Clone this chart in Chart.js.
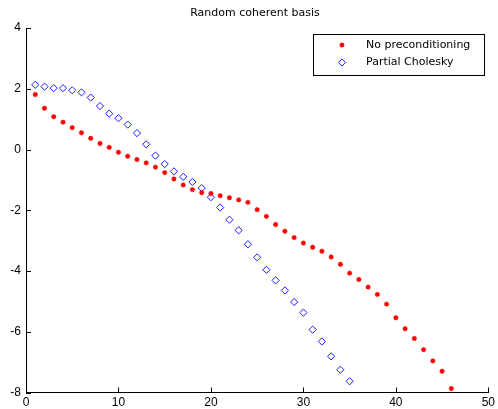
<!DOCTYPE html>
<html>
<head>
<meta charset="utf-8">
<script src="https://cdn.jsdelivr.net/npm/chart.js@4.4.1/dist/chart.umd.min.js"></script>
<style>
  html, body { margin: 0; padding: 0; background: #fff; }
  #wrap { width: 498px; height: 409px; }
</style>
</head>
<body>
<div id="wrap"><canvas id="chart"></canvas></div>
<script>
/**
 * Variable
 */
const TITLE = 'Random coherent basis';
const SERIES_NAMES = ['No preconditioning', 'Partial Cholesky'];
const X_TICKS = [0, 10, 20, 30, 40, 50];
const Y_TICKS = [-8, -6, -4, -2, 0, 2, 4];

const noPrecondIter = [
    1, 2, 3, 4, 5, 6, 7, 8, 9, 10, 11, 12, 13, 14, 15, 16, 17, 18, 19, 20, 21, 22, 23,
    24, 25, 26, 27, 28, 29, 30, 31, 32, 33, 34, 35, 36, 37, 38, 39, 40, 41, 42, 43, 44, 45, 46
];
const noPrecondValues = [
    1.81, 1.36, 1.08, 0.90, 0.72, 0.55, 0.37, 0.20, 0.07, -0.09, -0.22, -0.33, -0.44, -0.58,
    -0.76, -0.97, -1.17, -1.32, -1.42, -1.45, -1.52, -1.59, -1.66, -1.74, -1.98, -2.20, -2.47,
    -2.69, -2.90, -3.08, -3.22, -3.35, -3.54, -3.78, -4.07, -4.28, -4.53, -4.77, -5.09, -5.54,
    -5.90, -6.22, -6.59, -6.96, -7.30, -7.87
];
const cholIter = [
    1, 2, 3, 4, 5, 6, 7, 8, 9, 10, 11, 12, 13, 14, 15, 16, 17, 18, 19, 20, 21, 22, 23,
    24, 25, 26, 27, 28, 29, 30, 31, 32, 33, 34, 35
];
const cholValues = [
    2.13, 2.07, 2.02, 2.02, 1.95, 1.88, 1.71, 1.43, 1.18, 1.03, 0.82, 0.54, 0.17, -0.20,
    -0.48, -0.72, -0.90, -1.07, -1.27, -1.57, -1.91, -2.31, -2.66, -3.12, -3.55, -3.96, -4.31,
    -4.64, -5.02, -5.37, -5.93, -6.32, -6.81, -7.25, -7.63
];

const RED = '#ff0000';
const BLUE = '#1a1aff';
const TICK_FONT = 'Liberation Sans, Arial, sans-serif';
const TEXT_FONT = 'DejaVu Sans, sans-serif';

//////////////////////////////////////////////////////////////////

/**
 * Zip x / y arrays into points
 */
function toPoints(xs, ys) {
    return xs.map(function (x, i) { return { x: x, y: ys[i] }; });
}

/**
 * Inward tick marks (matlab style) + title over the plot
 */
const axesDecor = {
    id: 'axesDecor',
    afterDatasetsDraw(chart) {
        const ctx = chart.ctx;
        const xs = chart.scales.x, ys = chart.scales.y;
        const len = 5;
        ctx.save();
        ctx.strokeStyle = '#000';
        ctx.lineWidth = 1;
        ctx.beginPath();
        X_TICKS.forEach(function (v) {
            const px = Math.round(xs.getPixelForValue(v)) + 0.5;
            ctx.moveTo(px, ys.bottom);
            ctx.lineTo(px, ys.bottom - len);
        });
        Y_TICKS.forEach(function (v) {
            const py = Math.round(ys.getPixelForValue(v)) + 0.5;
            ctx.moveTo(xs.left, py);
            ctx.lineTo(xs.left + len, py);
        });
        ctx.stroke();

        // title
        ctx.fillStyle = '#000';
        ctx.font = '11px ' + TEXT_FONT;
        ctx.textAlign = 'center';
        ctx.textBaseline = 'middle';
        ctx.fillText(TITLE, 255, 13);
        ctx.restore();
    }
};

/**
 * Legend box in the top right of the plot
 */
const boxLegend = {
    id: 'boxLegend',
    afterDraw(chart) {
        const ctx = chart.ctx;
        const left = 313.5, top = 34.5, w = 171, h = 41;
        ctx.save();
        ctx.fillStyle = '#fff';
        ctx.fillRect(left, top, w, h);
        ctx.strokeStyle = '#000';
        ctx.lineWidth = 1;
        ctx.strokeRect(left, top, w, h);
        ctx.font = '11px ' + TEXT_FONT;
        ctx.textBaseline = 'middle';
        chart.data.datasets.forEach(function (ds, i) {
            const cy = 45 + i * 17.5;
            const opts = chart.getDatasetMeta(i).data[0].options;
            ctx.fillStyle = opts.backgroundColor;
            ctx.strokeStyle = opts.borderColor;
            ctx.lineWidth = opts.borderWidth;
            Chart.helpers.drawPoint(ctx, {
                pointStyle: opts.pointStyle,
                radius: opts.radius,
                borderWidth: opts.borderWidth,
                rotation: 0
            }, 342, cy);
            ctx.fillStyle = '#000';
            ctx.fillText(ds.label, 366, cy);
        });
        ctx.restore();
    }
};

/**
 * Load scatter chart
 */
function loadChart(id) {
    const data = {
        datasets: [
            {
                label: SERIES_NAMES[0],
                data: toPoints(noPrecondIter, noPrecondValues),
                pointStyle: 'circle',
                pointRadius: 2.2,
                backgroundColor: RED,
                borderColor: RED,
                borderWidth: 0.5,
                showLine: false
            },
            {
                label: SERIES_NAMES[1],
                data: toPoints(cholIter, cholValues),
                pointStyle: 'rectRot',
                pointRadius: 3.6,
                backgroundColor: 'rgba(0,0,0,0)',
                borderColor: BLUE,
                borderWidth: 1,
                showLine: false
            }
        ]
    };
    const config = {
        type: 'scatter',
        data: data,
        plugins: [axesDecor, boxLegend],
        options: {
            responsive: false,
            animation: false,
            layout: { padding: { left: 0, right: 8, top: 28, bottom: 0 } },
            plugins: {
                legend: { display: false },
                tooltip: { enabled: false },
                title: { display: false }
            },
            scales: {
                x: {
                    type: 'linear',
                    min: 0,
                    max: 50,
                    afterBuildTicks: function (scale) {
                        scale.ticks = X_TICKS.map(function (v) { return { value: v }; });
                    },
                    afterFit: function (scale) { scale.height = 16.5; },
                    grid: { display: false, drawTicks: false },
                    border: { display: true, color: '#000', width: 1 },
                    ticks: {
                        color: '#000',
                        padding: 3,
                        maxRotation: 0,
                        font: { family: TICK_FONT, size: 12 }
                    }
                },
                y: {
                    type: 'linear',
                    min: -8,
                    max: 4,
                    afterBuildTicks: function (scale) {
                        scale.ticks = Y_TICKS.map(function (v) { return { value: v }; });
                    },
                    afterFit: function (scale) { scale.width = 26; },
                    grid: { display: false, drawTicks: false },
                    border: { display: true, color: '#000', width: 1 },
                    ticks: {
                        color: '#000',
                        padding: 5,
                        font: { family: TICK_FONT, size: 12 }
                    }
                }
            }
        }
    };
    const canvas = document.getElementById(id);
    canvas.width = 498;
    canvas.height = 409;
    new Chart(canvas, config);
}

/////////////////////////////////////////////////////////////////////////////

loadChart('chart');
</script>
</body>
</html>
